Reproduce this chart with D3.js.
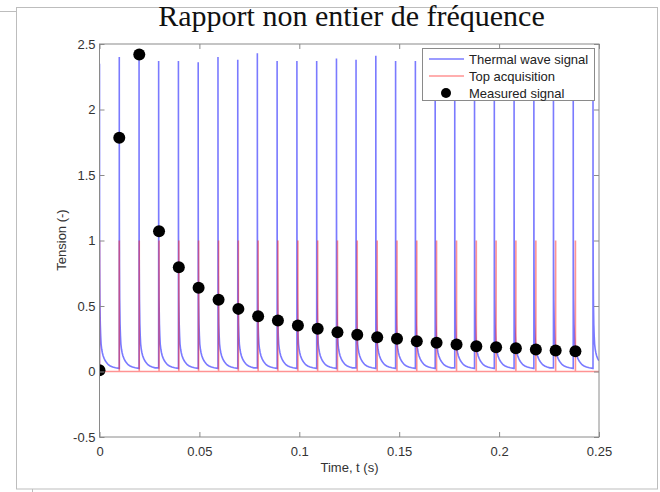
<!DOCTYPE html>
<html>
<head>
<meta charset="utf-8">
<script src="https://cdn.jsdelivr.net/npm/d3@7/dist/d3.min.js"></script>
<style>
  html, body { margin: 0; padding: 0; background: #fff; }
  svg { display: block; }
</style>
</head>
<body>
<svg id="chart" width="660" height="492"></svg>
<script>
// Thermal wave pulses (blue): onset times (s) and peak values (V)
const blueTimes = [0, 0.0099, 0.0198, 0.0296, 0.0395, 0.0494, 0.0593, 0.0692, 0.079, 0.0889,
  0.0988, 0.1087, 0.1186, 0.1284, 0.1383, 0.1482, 0.1581, 0.168, 0.1778, 0.1877,
  0.1976, 0.2075, 0.2174, 0.2272, 0.2371, 0.247];
const bluePeaks = [2.35, 2.40, 2.44, 2.37, 2.37, 2.36, 2.40, 2.38, 2.43, 2.37,
  2.37, 2.37, 2.39, 2.38, 2.41, 2.37, 2.37, 2.40, 2.38, 2.41,
  2.37, 2.39, 2.38, 2.40, 2.37, 2.37];

// Decay after each pulse: delay after onset (s) and signal level (V)
const decayLag = [0.00003, 0.00006, 0.0001, 0.0002, 0.0004, 0.0006, 0.0008, 0.0011, 0.0014,
  0.0018, 0.0023, 0.0029, 0.0036, 0.0044, 0.0054, 0.0066, 0.008, 0.0098];
const decayLevel = [1.3, 1.0, 0.8, 0.55, 0.36, 0.27, 0.21, 0.17, 0.145,
  0.12, 0.1, 0.082, 0.066, 0.052, 0.042, 0.034, 0.028, 0.024];

// Acquisition trigger (red): trigger times (s) and trigger level
const topTimes = [0, 0.0099, 0.0199, 0.0298, 0.0397, 0.0496, 0.0596, 0.0695, 0.0794, 0.0893,
  0.0993, 0.1092, 0.1191, 0.129, 0.139, 0.1489, 0.1588, 0.1687, 0.1787, 0.1886,
  0.1985, 0.2084, 0.2184, 0.2283, 0.2382];
const topLevel = 1;

// Sampled value at each trigger
const measured = [0.01, 1.785, 2.42, 1.07, 0.795, 0.64, 0.547, 0.478, 0.422, 0.389,
  0.352, 0.326, 0.30, 0.28, 0.262, 0.25, 0.231, 0.219, 0.206, 0.193,
  0.186, 0.178, 0.168, 0.16, 0.155];

const xTicks = [0, 0.05, 0.1, 0.15, 0.2, 0.25];
const xTickLabels = ["0", "0.05", "0.1", "0.15", "0.2", "0.25"];
const yTicks = [-0.5, 0, 0.5, 1, 1.5, 2, 2.5];
const yTickLabels = ["-0.5", "0", "0.5", "1", "1.5", "2", "2.5"];

const legendLabels = ["Thermal wave signal", "Top acquisition", "Measured signal"];

const svg = d3.select("#chart");
const plotLeft = 99.5, plotRight = 599, plotTop = 44, plotBottom = 437;

const x = d3.scaleLinear().domain([0, 0.25]).range([plotLeft, plotRight]);
const y = d3.scaleLinear().domain([-0.5, 2.5]).range([plotBottom, plotTop]);

const sans = "Liberation Sans, Arial, Helvetica, sans-serif";
const axisGray = "#8a8a8a";
const textGray = "#333";
const blueStroke = "rgba(40,40,255,0.62)";
const redStroke = "rgba(255,40,40,0.5)";

// page frame
svg.append("rect").attr("x", 16.5).attr("y", 7.5).attr("width", 641).attr("height", 481.5)
  .attr("fill", "none").attr("stroke", "#bdbdbd").attr("stroke-width", 1);
svg.append("line").attr("x1", 0).attr("x2", 16.5).attr("y1", 11.5).attr("y2", 11.5)
  .attr("stroke", "#bdbdbd");
svg.append("line").attr("x1", 32.5).attr("x2", 32.5).attr("y1", 489).attr("y2", 492)
  .attr("stroke", "#bdbdbd");

// title
svg.append("text").attr("x", 351.5).attr("y", 26).attr("text-anchor", "middle")
  .attr("font-family", "Liberation Serif, Times New Roman, serif").attr("font-size", 30)
  .attr("fill", "#111").text("Rapport non entier de fréquence");

svg.append("defs").append("clipPath").attr("id", "plotClip")
  .append("rect").attr("x", plotLeft).attr("y", plotTop)
  .attr("width", plotRight - plotLeft).attr("height", plotBottom - plotTop);

const plot = svg.append("g").attr("clip-path", "url(#plotClip)");

// thermal wave signal path
const bluePts = [];
blueTimes.forEach((t0, i) => {
  const next = i < blueTimes.length - 1 ? blueTimes[i + 1] : 0.25;
  const prev = bluePts.length ? bluePts[bluePts.length - 1][1] : 0;
  bluePts.push([t0, prev]);
  bluePts.push([t0, bluePeaks[i]]);
  decayLag.forEach((lag, j) => {
    if (t0 + lag < next) bluePts.push([t0 + lag, decayLevel[j]]);
  });
});

// acquisition trigger path
const redPts = [[0, 0]];
topTimes.forEach(t => { redPts.push([t, 0], [t, topLevel], [t, 0]); });
redPts.push([0.25, 0]);

const line = d3.line().x(d => x(d[0])).y(d => y(d[1]));

plot.append("path").datum(bluePts).attr("d", line)
  .attr("fill", "none").attr("stroke", blueStroke).attr("stroke-width", 1.6);
plot.append("path").datum(redPts).attr("d", line)
  .attr("fill", "none").attr("stroke", redStroke).attr("stroke-width", 1.6);

plot.selectAll("circle.meas").data(measured).join("circle").attr("class", "meas")
  .attr("cx", (d, i) => x(topTimes[i])).attr("cy", d => y(d)).attr("r", 6).attr("fill", "#000");

// axes box
svg.append("rect").attr("x", plotLeft).attr("y", plotTop)
  .attr("width", plotRight - plotLeft).attr("height", plotBottom - plotTop)
  .attr("fill", "none").attr("stroke", axisGray).attr("stroke-width", 1);

function styleAxis(g, showText) {
  g.select(".domain").remove();
  g.selectAll(".tick line").attr("stroke", axisGray);
  g.selectAll(".tick text").attr("fill", textGray).attr("font-family", sans).attr("font-size", 13)
    .style("display", showText ? null : "none");
}

svg.append("g").attr("transform", `translate(0,${plotBottom})`)
  .call(d3.axisBottom(x).tickValues(xTicks).tickFormat((d, i) => xTickLabels[i])
    .tickSizeInner(-5).tickSizeOuter(0).tickPadding(10))
  .call(g => styleAxis(g, true));
svg.append("g").attr("transform", `translate(0,${plotTop})`)
  .call(d3.axisTop(x).tickValues(xTicks).tickSizeInner(-5).tickSizeOuter(0))
  .call(g => styleAxis(g, false));
svg.append("g").attr("transform", `translate(${plotLeft},0)`)
  .call(d3.axisLeft(y).tickValues(yTicks).tickFormat((d, i) => yTickLabels[i])
    .tickSizeInner(-5).tickSizeOuter(0).tickPadding(4))
  .call(g => styleAxis(g, true));
svg.append("g").attr("transform", `translate(${plotRight},0)`)
  .call(d3.axisRight(y).tickValues(yTicks).tickSizeInner(-5).tickSizeOuter(0))
  .call(g => styleAxis(g, false));

// axis titles
svg.append("text").attr("x", 349.5).attr("y", 472).attr("text-anchor", "middle")
  .attr("font-family", sans).attr("font-size", 13).attr("fill", textGray).text("Time, t (s)");
svg.append("text").attr("transform", "translate(66,240) rotate(-90)").attr("text-anchor", "middle")
  .attr("font-family", sans).attr("font-size", 13).attr("fill", textGray).text("Tension (-)");

// legend
const lg = svg.append("g");
lg.append("rect").attr("x", 422.5).attr("y", 48.5).attr("width", 172).attr("height", 52)
  .attr("fill", "#fff").attr("stroke", axisGray);
const rowY = [59, 76, 93];
lg.append("line").attr("x1", 429).attr("x2", 464).attr("y1", rowY[0]).attr("y2", rowY[0])
  .attr("stroke", blueStroke).attr("stroke-width", 1.6);
lg.append("line").attr("x1", 429).attr("x2", 464).attr("y1", rowY[1]).attr("y2", rowY[1])
  .attr("stroke", redStroke).attr("stroke-width", 1.6);
lg.append("circle").attr("cx", 446).attr("cy", rowY[2]).attr("r", 5).attr("fill", "#000");
lg.selectAll("text").data(legendLabels).join("text")
  .attr("x", 469).attr("y", (d, i) => rowY[i]).attr("dy", "0.35em")
  .attr("font-family", sans).attr("font-size", 13).attr("fill", "#222").text(d => d);
</script>
</body>
</html>
